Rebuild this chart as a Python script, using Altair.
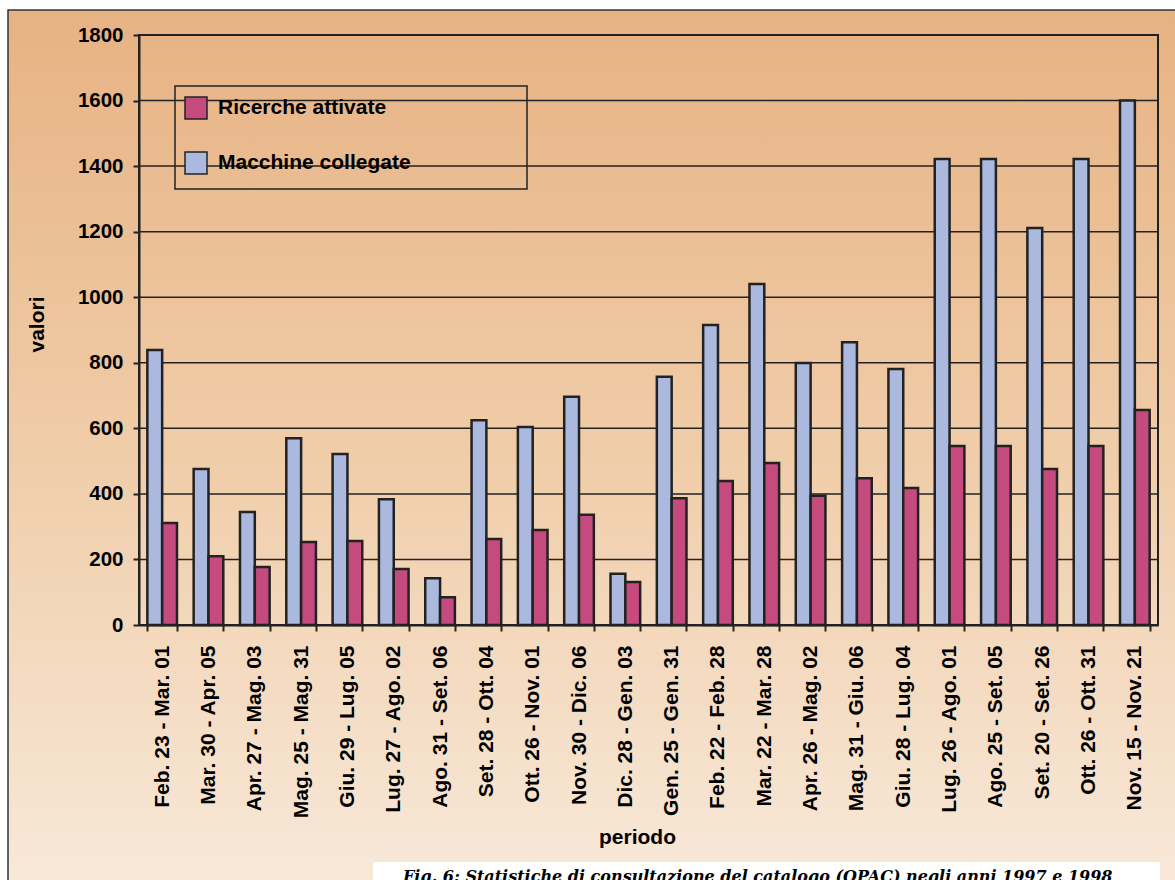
import altair as alt
import pandas as pd

periods = [
    "Feb. 23 - Mar. 01", "Mar. 30 - Apr. 05", "Apr. 27 - Mag. 03", "Mag. 25 - Mag. 31",
    "Giu. 29 - Lug. 05", "Lug. 27 - Ago. 02", "Ago. 31 - Set. 06", "Set. 28 - Ott. 04",
    "Ott. 26 - Nov. 01", "Nov. 30 - Dic. 06", "Dic. 28 - Gen. 03", "Gen. 25 - Gen. 31",
    "Feb. 22 - Feb. 28", "Mar. 22 - Mar. 28", "Apr. 26 - Mag. 02", "Mag. 31 - Giu. 06",
    "Giu. 28 - Lug. 04", "Lug. 26 - Ago. 01", "Ago. 25 - Set. 05", "Set. 20 - Set. 26",
    "Ott. 26 - Ott. 31", "Nov. 15 - Nov. 21",
]
macchine = [839, 476, 345, 570, 522, 384, 143, 625, 604, 696, 156, 757,
            915, 1040, 799, 863, 781, 1422, 1422, 1211, 1422, 1600]
ricerche = [311, 210, 177, 253, 256, 171, 85, 262, 290, 336, 131, 387,
            439, 494, 394, 448, 418, 546, 546, 476, 546, 656]
series = ["Ricerche attivate", "Macchine collegate"]
y_ticks = [0, 200, 400, 600, 800, 1000, 1200, 1400, 1600, 1800]
caption = "Fig. 6: Statistiche di consultazione del catalogo (OPAC) negli anni 1997 e 1998"

rows = []
for p, m, r in zip(periods, macchine, ricerche):
    rows.append({"periodo": p, "serie": "Macchine collegate", "valore": m})
    rows.append({"periodo": p, "serie": "Ricerche attivate", "valore": r})
df = pd.DataFrame(rows)

W, H = 1019, 590
FONT = "Liberation Sans"
RED = "#C54A7E"
BLUE = "#ABB9DE"
DARK = "#222222"

one = alt.Data(values=[{"a": 1}])

y_scale = alt.Scale(domain=[0, 1800], nice=False)
y_axis = alt.Axis(values=y_ticks, format="d", labelFont=FONT,
                  labelFontSize=20.5, labelFontWeight="bold",
                  labelColor="black", labelPadding=10, tickSize=6,
                  tickColor=DARK, tickWidth=2, domainColor=DARK,
                  domainWidth=2, grid=False, titleFont=FONT,
                  titleFontSize=21, titleFontWeight="bold",
                  titleColor="black", titleAngle=270, titleX=-96,
                  titleY=289, titleAlign="center",
                  titleBaseline="alphabetic", zindex=1)

background = alt.Chart(one).mark_rect(
    color=alt.Gradient(
        gradient="linear", x1=0, y1=0, x2=0, y2=1,
        stops=[alt.GradientStop(color="#E7B283", offset=0),
               alt.GradientStop(color="#F0CDA9", offset=0.5),
               alt.GradientStop(color="#F8EADB", offset=1)],
    ),
    stroke="#333333", strokeWidth=1.5,
).encode(x=alt.value(-131), x2=alt.value(1060), y=alt.value(-25), y2=alt.value(870))

grid = alt.Chart(pd.DataFrame({"valore": y_ticks})).mark_rule(
    color=DARK, strokeWidth=1.5
).encode(
    y=alt.Y("valore:Q", title="valori", scale=y_scale, axis=y_axis),
    x=alt.value(0), x2=alt.value(W),
)

frame = alt.Chart(one).mark_rect(fill=None, stroke=DARK, strokeWidth=2).encode(
    x=alt.value(0), x2=alt.value(W), y=alt.value(0), y2=alt.value(H)
)

bars = alt.Chart(df).mark_bar(stroke=DARK, strokeWidth=2.5).encode(
    x=alt.X("periodo:N", sort=periods, title="periodo",
            scale=alt.Scale(paddingInner=0.36, paddingOuter=0.18),
            axis=alt.Axis(labelAngle=270, labelFont=FONT, labelFontSize=21,
                          labelFontWeight="bold", labelColor="black",
                          labelPadding=14, tickSize=6, tickColor=DARK,
                          tickWidth=2, tickBand="extent",
                          domainColor=DARK, domainWidth=2, grid=False,
                          titleFont=FONT, titleFontSize=21, titleFontWeight="bold",
                          titleColor="black", titleX=498, titleY=218,
                          titleBaseline="alphabetic", zindex=1, labelLimit=400)),
    xOffset=alt.XOffset("serie:N", sort=["Macchine collegate", "Ricerche attivate"]),
    y=alt.Y("valore:Q", title="valori", scale=y_scale, axis=y_axis),
    color=alt.Color("serie:N", scale=alt.Scale(domain=series, range=[RED, BLUE]),
                    legend=alt.Legend(orient="none", legendX=45, legendY=61,
                                      title=None, symbolType="square",
                                      symbolSize=484, symbolStrokeColor=DARK,
                                      symbolStrokeWidth=1.5, symbolOpacity=1,
                                      labelFont=FONT, labelFontSize=21,
                                      labelFontWeight="bold", labelColor="black",
                                      labelOffset=10, rowPadding=27, padding=0,
                                      labelLimit=400)),
)

legend_box = alt.Chart(one).mark_rect(
    fill=None, stroke=DARK, strokeWidth=1.5
).encode(x=alt.value(36), x2=alt.value(388), y=alt.value(51), y2=alt.value(154))

caption_box = alt.Chart(one).mark_rect(fill="white", stroke=None).encode(
    x=alt.value(234), x2=alt.value(1021), y=alt.value(827), y2=alt.value(870)
)
caption_text = alt.Chart(one).mark_text(
    font="DejaVu Serif", fontSize=16, fontWeight="bold", fontStyle="italic",
    align="left", baseline="alphabetic", color="black",
).encode(x=alt.value(264), y=alt.value(846.5), text=alt.value(caption))

chart = alt.layer(background, grid, frame, bars, legend_box, caption_box, caption_text).properties(
    width=W, height=H,
    autosize=alt.AutoSizeParams(type="none"),
    padding={"left": 139, "top": 35, "right": 17, "bottom": 255},
    background="white",
).configure_view(stroke=None)

chart.save("out.html", embed_options={"renderer": "svg", "actions": False})
